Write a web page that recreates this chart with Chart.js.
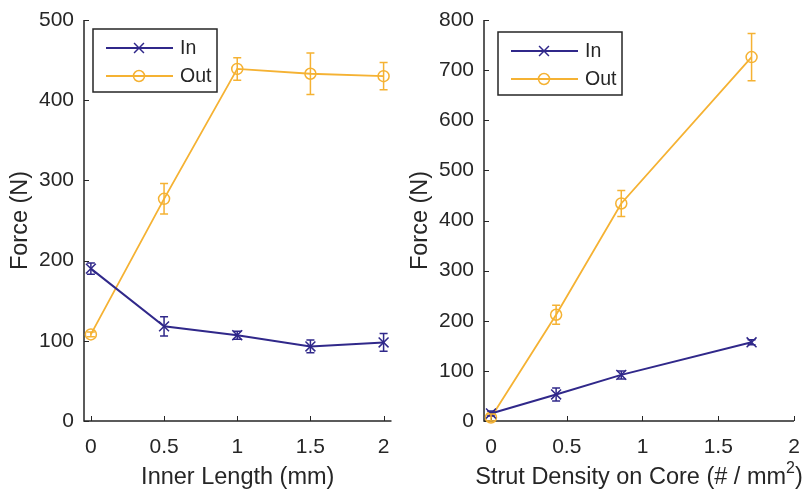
<!DOCTYPE html>
<html>
<head>
<meta charset="utf-8">
<script src="https://cdn.jsdelivr.net/npm/chart.js@4.4.1/dist/chart.umd.min.js"></script>
<style>
  html, body { margin: 0; padding: 0; background: #fff; }
  #wrap { position: relative; width: 806px; height: 493px; }
  #left { position: absolute; left: 0; top: 0; }
  #right { position: absolute; left: 400px; top: 0; }
</style>
</head>
<body>
<div id="wrap">
  <canvas id="left" width="400" height="493"></canvas>
  <canvas id="right" width="406" height="493"></canvas>
</div>
<script>
var seriesNames = ['In', 'Out'];

// left panel: inner length
var lengthX = [0, 0.5, 1, 1.5, 2];
var lengthIn = [190, 118, 107, 93, 98];
var lengthInErr = [7, 12, 5, 8, 11];
var lengthOut = [108, 277, 439, 433, 430];
var lengthOutErr = [3, 19, 14, 26, 17];
var lengthXTicks = [0, 0.5, 1, 1.5, 2];
var lengthYTicks = [0, 100, 200, 300, 400, 500];

// right panel: strut density
var densityX = [0, 0.43, 0.86, 1.72];
var densityIn = [15, 53, 92, 157];
var densityInErr = [5, 13, 8, 5];
var densityOut = [7, 212, 434, 726];
var densityOutErr = [7, 19, 26, 47];
var densityXTicks = [0, 0.5, 1, 1.5, 2];
var densityYTicks = [0, 100, 200, 300, 400, 500, 600, 700, 800];

var IN_COLOR = '#30288a';
var OUT_COLOR = '#f5b233';
var AXIS_COLOR = '#262626';
var FONT = "'Liberation Sans', Arial, Helvetica, sans-serif";

function points(xs, ys) {
  return xs.map(function (x, i) { return { x: x, y: ys[i] }; });
}

var errorBarPlugin = {
  id: 'errorBars',
  afterDatasetsDraw: function (chart) {
    var ctx = chart.ctx;
    var xs = chart.scales.x, ys = chart.scales.y;
    chart.data.datasets.forEach(function (ds) {
      if (!ds.errors) return;
      ctx.save();
      ctx.strokeStyle = ds.borderColor;
      ctx.lineWidth = 1.5;
      ds.data.forEach(function (p, i) {
        var e = ds.errors[i];
        var px = xs.getPixelForValue(p.x);
        var lo = ys.getPixelForValue(p.y - e);
        var hi = ys.getPixelForValue(p.y + e);
        ctx.beginPath();
        ctx.moveTo(px, lo); ctx.lineTo(px, hi);
        ctx.moveTo(px - 4, lo); ctx.lineTo(px + 4, lo);
        ctx.moveTo(px - 4, hi); ctx.lineTo(px + 4, hi);
        ctx.stroke();
      });
      ctx.restore();
    });
  }
};

// left and bottom axis lines with inward ticks (MATLAB box off look)
var axesPlugin = {
  id: 'axesLines',
  beforeDatasetsDraw: function (chart) {
    var ctx = chart.ctx, a = chart.chartArea;
    var xs = chart.scales.x, ys = chart.scales.y;
    ctx.save();
    ctx.strokeStyle = AXIS_COLOR;
    ctx.lineWidth = 1.5;
    ctx.beginPath();
    ctx.moveTo(a.left, a.top);
    ctx.lineTo(a.left, a.bottom);
    ctx.lineTo(a.right, a.bottom);
    ctx.stroke();
    ctx.lineWidth = 1;
    ctx.beginPath();
    xs.ticks.forEach(function (t) {
      var px = Math.round(xs.getPixelForValue(t.value)) + 0.5;
      ctx.moveTo(px, a.bottom); ctx.lineTo(px, a.bottom - 5);
    });
    ys.ticks.forEach(function (t) {
      var py = Math.round(ys.getPixelForValue(t.value)) + 0.5;
      ctx.moveTo(a.left, py); ctx.lineTo(a.left + 5, py);
    });
    ctx.stroke();
    ctx.restore();
  }
};

// x title drawn by hand so that the superscript can be raised
var xTitlePlugin = {
  id: 'xTitle',
  afterDraw: function (chart, args, opts) {
    var ctx = chart.ctx, a = chart.chartArea;
    var parts = opts.parts;
    ctx.save();
    ctx.fillStyle = AXIS_COLOR;
    ctx.textBaseline = 'alphabetic';
    var widths = parts.map(function (p) {
      ctx.font = (p.sup ? 16 : 23.5) + 'px ' + FONT;
      return ctx.measureText(p.text).width;
    });
    var total = widths.reduce(function (s, w) { return s + w; }, 0);
    var x = (a.left + a.right) / 2 - total / 2;
    var base = opts.baseline;
    parts.forEach(function (p, i) {
      ctx.font = (p.sup ? 16 : 23.5) + 'px ' + FONT;
      ctx.fillText(p.text, x, p.sup ? base - 11 : base);
      x += widths[i];
    });
    ctx.restore();
  }
};

var boxLegendPlugin = {
  id: 'boxLegend',
  afterDraw: function (chart, args, opts) {
    var ctx = chart.ctx, a = chart.chartArea;
    var bx = a.left + opts.dx, by = a.top + opts.dy, bw = 124, bh = 63;
    ctx.save();
    ctx.fillStyle = '#fff';
    ctx.fillRect(bx, by, bw, bh);
    ctx.strokeStyle = AXIS_COLOR;
    ctx.lineWidth = 1.5;
    ctx.strokeRect(bx, by, bw, bh);
    chart.data.datasets.forEach(function (ds, i) {
      var ry = by + 19 + i * 28;
      ctx.strokeStyle = ds.borderColor;
      ctx.lineWidth = ds.borderWidth;
      ctx.beginPath();
      ctx.moveTo(bx + 13, ry); ctx.lineTo(bx + 80, ry);
      ctx.stroke();
      ctx.lineWidth = 1.5;
      ctx.fillStyle = 'rgba(0,0,0,0)';
      Chart.helpers.drawPoint(ctx, {
        pointStyle: ds.pointStyle, radius: ds.pointRadius, borderWidth: 1.5
      }, bx + 46, ry);
      ctx.fillStyle = AXIS_COLOR;
      ctx.font = '19.5px ' + FONT;
      ctx.textBaseline = 'middle';
      ctx.fillText(ds.label, bx + 87, ry + 1);
    });
    ctx.restore();
  }
};

function makeDatasets(xs, inVals, inErr, outVals, outErr) {
  return [
    {
      label: seriesNames[0], data: points(xs, inVals), errors: inErr,
      borderColor: IN_COLOR, backgroundColor: 'rgba(0,0,0,0)', borderWidth: 2,
      pointStyle: 'crossRot', pointRadius: 7, pointBorderWidth: 1.5, clip: false
    },
    {
      label: seriesNames[1], data: points(xs, outVals), errors: outErr,
      borderColor: OUT_COLOR, backgroundColor: 'rgba(0,0,0,0)', borderWidth: 1.8,
      pointStyle: 'circle', pointRadius: 5.5, pointBorderWidth: 1.5, clip: false
    }
  ];
}

function makeChart(id, datasets, xMin, xMax, xTicks, yMax, yTicks, titleParts, padRight, legendPos) {
  var fixTicks = function (vals) {
    return function (scale) { scale.ticks = vals.map(function (v) { return { value: v }; }); };
  };
  return new Chart(document.getElementById(id), {
    type: 'line',
    data: { datasets: datasets },
    plugins: [errorBarPlugin, axesPlugin, boxLegendPlugin, xTitlePlugin],
    options: {
      responsive: false,
      animation: false,
      layout: { padding: { top: 20, right: padRight, left: 0, bottom: 0 } },
      plugins: {
        legend: { display: false },
        tooltip: { enabled: false },
        boxLegend: legendPos,
        xTitle: { parts: titleParts, baseline: 484 }
      },
      scales: {
        x: {
          type: 'linear', min: xMin, max: xMax,
          afterBuildTicks: fixTicks(xTicks),
          afterFit: function (s) {
            s.height = 72;
            s.paddingLeft = 0; s.paddingRight = 0;
          },
          grid: { display: false, drawTicks: false },
          border: { display: false },
          ticks: {
            color: AXIS_COLOR, padding: 14, maxRotation: 0, autoSkip: false,
            font: { family: FONT, size: 21 },
            callback: function (v) { return String(v); }
          },
          title: { display: false }
        },
        y: {
          type: 'linear', min: 0, max: yMax,
          afterBuildTicks: fixTicks(yTicks),
          afterFit: function (s) {
            s.width = 84;
            s.paddingTop = 0; s.paddingBottom = 0;
          },
          grid: { display: false, drawTicks: false },
          border: { display: false },
          ticks: {
            color: AXIS_COLOR, padding: 10, autoSkip: false,
            font: { family: FONT, size: 21 }
          },
          title: {
            display: true, text: 'Force (N)', color: AXIS_COLOR,
            font: { family: FONT, size: 23.5 }, padding: { top: 6, bottom: 0 }
          }
        }
      }
    }
  });
}

makeChart('left',
  makeDatasets(lengthX, lengthIn, lengthInErr, lengthOut, lengthOutErr),
  -0.047, 2.054, lengthXTicks, 500, lengthYTicks,
  [{ text: 'Inner Length (mm)' }], 5, { dx: 9, dy: 9 });

makeChart('right',
  makeDatasets(densityX, densityIn, densityInErr, densityOut, densityOutErr),
  -0.046, 2, densityXTicks, 800, densityYTicks,
  [{ text: 'Strut Density on Core (# / mm' }, { text: '2', sup: true }, { text: ')' }],
  12, { dx: 14, dy: 12 });
</script>
</body>
</html>
